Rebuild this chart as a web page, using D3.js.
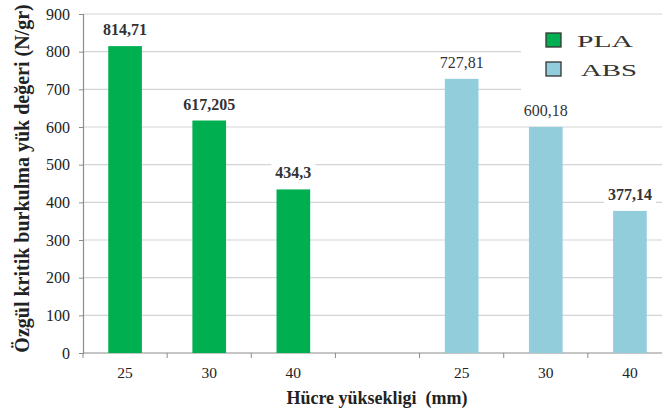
<!DOCTYPE html>
<html><head><meta charset="utf-8">
<script src="https://cdn.jsdelivr.net/npm/d3@7"></script>
<style>body{margin:0;background:#fff}svg{display:block}</style>
</head><body>
<svg id="c" width="662" height="415"></svg>
<script>
const categories = ["25","30","40","","25","30","40"];
const plaValues = [814.71, 617.205, 434.3];
const absValues = [727.81, 600.18, 377.14];
const plaLabels = ["814,71","617,205","434,3"];
const absLabels = ["727,81","600,18","377,14"];
const yTicks = [0,100,200,300,400,500,600,700,800,900];
const seriesNames = ["PLA","ABS"];
const colors = {PLA:"#00B050", ABS:"#92CDDC"};

(function(){
const svg = d3.select("#c");
const serif = "'Liberation Serif', 'Times New Roman', serif";
const pL = 83, pR = 672, pT = 14, pB = 353;

const x = d3.scaleBand().domain(d3.range(categories.length)).range([pL, pR]).paddingInner(0.6).paddingOuter(0.3);
const y = d3.scaleLinear().domain([0, 900]).range([pB, pT]);

// gridlines
svg.append("g").selectAll("line").data(yTicks.filter(d=>d>0)).join("line")
  .attr("x1", pL).attr("x2", 662).attr("y1", d=>y(d)).attr("y2", d=>y(d))
  .attr("stroke", "#d4d4d4").attr("stroke-width", 1.2);

// y axis
const ya = svg.append("g").attr("transform", `translate(${pL},0)`)
  .call(d3.axisLeft(y).tickValues(yTicks).tickSize(4).tickPadding(9).tickFormat(d3.format("d")))
  .attr("font-family", serif).attr("font-size", 16);
ya.select(".domain").attr("stroke", "#8c8c8c").attr("stroke-width", 1.2);
ya.selectAll(".tick line").attr("stroke", "#8c8c8c");
ya.selectAll("text").style("font-family", serif).style("font-size", "16px").attr("fill", "#222");

const bars = [];
plaValues.forEach((v,i)=>bars.push({s:"PLA", i:i, v:v, label:plaLabels[i]}));
absValues.forEach((v,i)=>bars.push({s:"ABS", i:i+4, v:v, label:absLabels[i]}));

// x axis
const xa = svg.append("g").attr("transform", `translate(0,${pB})`)
  .call(d3.axisBottom(x).tickSize(0).tickPadding(14).tickFormat(i=>categories[i]))
  .attr("font-family", serif).attr("font-size", 15.5);
xa.select(".domain").remove();
xa.selectAll("text").style("font-family", serif).style("font-size", "15.5px").attr("fill", "#222");
svg.append("line").attr("x1", pL).attr("x2", 662).attr("y1", pB).attr("y2", pB)
  .attr("stroke", "#8c8c8c").attr("stroke-width", 1.2);
svg.append("g").selectAll("line").data(d3.range(categories.length + 1)).join("line")
  .attr("x1", i=>x.range()[0] + i*x.step()).attr("x2", i=>x.range()[0] + i*x.step())
  .attr("y1", pB).attr("y2", pB + 5).attr("stroke", "#8c8c8c");

// bars
svg.append("g").selectAll("rect").data(bars).join("rect")
  .attr("x", d=>x(d.i)).attr("width", x.bandwidth())
  .attr("y", d=>y(d.v)).attr("height", d=>y(0)-y(d.v))
  .attr("fill", d=>colors[d.s]);

// legend
const leg = svg.append("g");
leg.append("rect").attr("x", 521).attr("y", 24).attr("width", 150).attr("height", 76).attr("fill", "#fff");
seriesNames.forEach((s,k)=>{
  const yy = 33 + k*29;
  leg.append("rect").attr("x", 546).attr("y", yy).attr("width", 15).attr("height", 14)
    .attr("fill", colors[s]).attr("stroke", "#333").attr("stroke-width", 1.3);
  leg.append("text").attr("x", 577 + k*4).attr("y", yy + 13.5)
    .attr("font-family", serif).attr("font-size", 17).attr("fill", "#333")
    .attr("textLength", 56).attr("lengthAdjust", "spacingAndGlyphs").text(s);
});

// labels with white background
const lg = svg.append("g");
bars.forEach(d=>{
  const cx = x(d.i) + x.bandwidth()/2;
  const by = y(d.v) - 11;
  const bg = lg.append("rect").attr("fill", "#fff");
  const t = lg.append("text").attr("x", cx).attr("y", by).attr("text-anchor", "middle")
    .style("font-family", serif).style("font-size", "16px")
    .style("font-weight", (d.s==="PLA" || d.i===6) ? "bold" : "normal")
    .attr("fill", "#333").text(d.label);
  const b = t.node().getBBox();
  bg.attr("x", b.x-4).attr("y", b.y-1).attr("width", b.width+8).attr("height", b.height+2);
});

// axis titles
svg.append("text").attr("transform", `translate(29,${(pT+pB)/2 - 5}) rotate(-90)`)
  .attr("text-anchor", "middle").attr("font-family", serif).attr("font-weight", "bold")
  .attr("font-size", 20).attr("fill", "#222").text("Özgül kritik burkulma yük değeri (N/gr)");
svg.append("text").attr("x", 377).attr("y", 404).attr("text-anchor", "middle")
  .attr("font-family", serif).attr("font-weight", "bold").attr("font-size", 18)
  .attr("fill", "#222").style("white-space", "pre")
  .text("Hücre yüksekligi  (mm)");
})();
</script>
</body></html>
